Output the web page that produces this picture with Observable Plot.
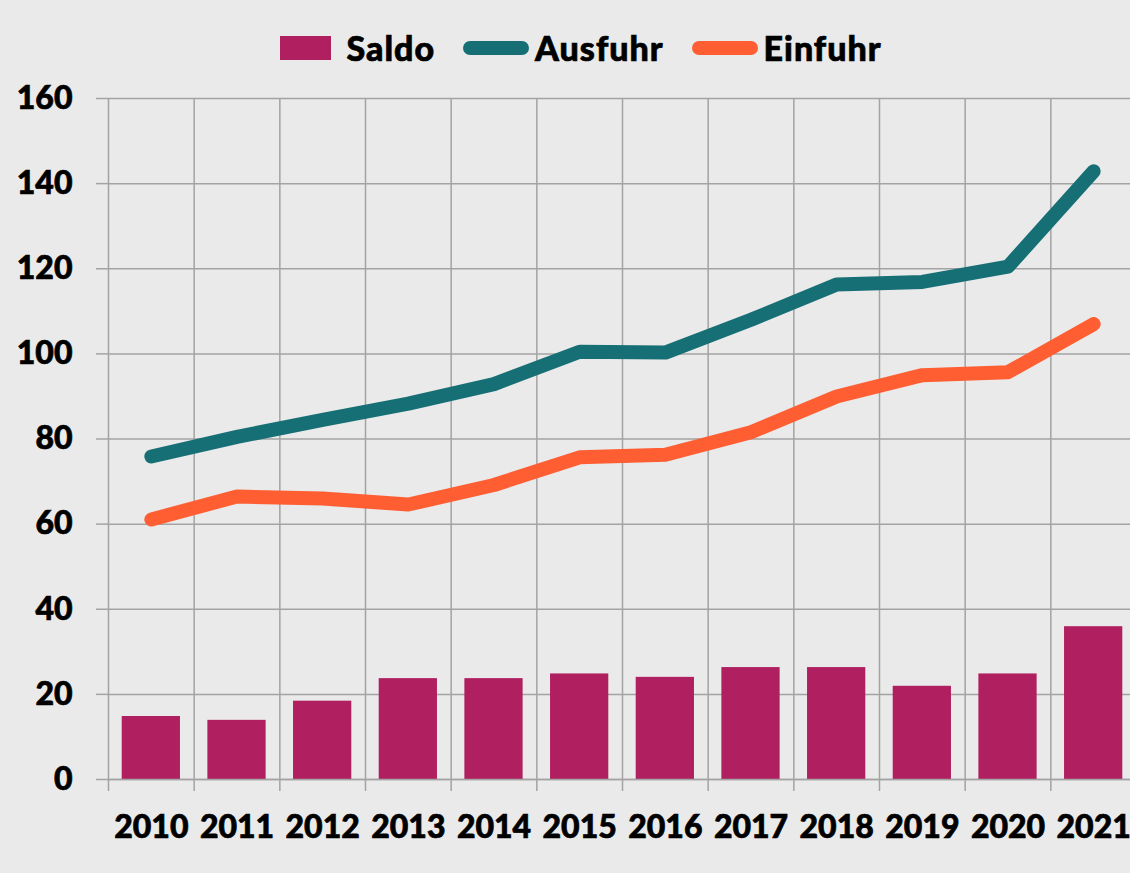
<!DOCTYPE html>
<html>
<head>
<meta charset="utf-8">
<script src="https://cdn.jsdelivr.net/npm/d3@7"></script>
<script src="https://cdn.jsdelivr.net/npm/@observablehq/plot@0.6"></script>
<style>
  html, body { margin: 0; padding: 0; background: #eaeaea; overflow: hidden; width: 1130px; height: 873px; }
  body { font-family: Lato, "Noto Sans", sans-serif; font-weight: 900; }
  #legend { height: 75px; box-sizing: border-box; padding-top: 20px; padding-left: 32px; display: flex; align-items: center; justify-content: center; font-size: 34px; letter-spacing: 1px; color: #000; -webkit-text-stroke: 0.7px #000; }
  .item { display: flex; align-items: center; }
  .sw-rect { width: 51px; height: 24px; margin-right: 15px; }
  .sw-line { width: 66px; height: 14px; border-radius: 7px; margin-right: 6px; }
  #chart svg { display: block; max-width: none !important; }
  #chart svg text { stroke: #000; stroke-width: 0.7px; }
</style>
</head>
<body>
<div id="legend"></div>
<div id="chart"></div>
<script>
const years = [2010, 2011, 2012, 2013, 2014, 2015, 2016, 2017, 2018, 2019, 2020, 2021];
const saldo   = [14.8, 13.9, 18.4, 23.7, 23.7, 24.8, 24.0, 26.3, 26.3, 21.9, 24.8, 35.9];
const ausfuhr = [75.9, 80.5, 84.5, 88.3, 92.9, 100.5, 100.3, 108.0, 116.3, 116.9, 120.5, 142.9];
const einfuhr = [61.1, 66.5, 66.0, 64.6, 69.2, 75.7, 76.3, 81.6, 90.0, 95.0, 95.7, 107.0];
const yTicks = [0, 20, 40, 60, 80, 100, 120, 140, 160];
const seriesNames = ["Saldo", "Ausfuhr", "Einfuhr"];
const colors = { Saldo: "#b01f5f", Ausfuhr: "#176f76", Einfuhr: "#ff5e33" };

// legend
const legend = document.getElementById("legend");
seriesNames.forEach((name, i) => {
  const it = document.createElement("div");
  it.className = "item";
  if (i > 0) it.style.marginLeft = "28px";
  const sw = document.createElement("div");
  sw.className = name === "Saldo" ? "sw-rect" : "sw-line";
  sw.style.background = colors[name];
  const tx = document.createElement("span");
  tx.textContent = name;
  it.appendChild(sw); it.appendChild(tx);
  legend.appendChild(it);
});

const bars = years.map((y, i) => ({ year: y, value: saldo[i] }));
const lines = [
  ...years.map((y, i) => ({ year: y, value: ausfuhr[i], series: "Ausfuhr" })),
  ...years.map((y, i) => ({ year: y, value: einfuhr[i], series: "Einfuhr" }))
];
const bounds = [...years.map(y => y - 0.5), years[years.length - 1] + 0.5];
const half = 0.34;
const gridColor = "#a3a3a3";

const plot = Plot.plot({
  width: 1136,
  height: 798,
  marginTop: 23,
  marginBottom: 94,
  marginLeft: 108,
  marginRight: 0,
  style: { background: "transparent", fontFamily: "Lato, 'Noto Sans', sans-serif", fontWeight: 900, fontSize: "32px", color: "#000", maxWidth: "none" },
  x: { type: "linear", domain: [years[0] - 0.5, years[years.length - 1] + 0.5], label: null },
  y: { domain: [0, 160], label: null },
  marks: [
    Plot.gridY(yTicks, { stroke: gridColor, strokeOpacity: 1, strokeWidth: 1.5 }),
    Plot.gridX(bounds, { stroke: gridColor, strokeOpacity: 1, strokeWidth: 1.5 }),
    Plot.axisY(yTicks, { label: null, tickSize: 12, tickPadding: 24, stroke: gridColor, strokeWidth: 1.5, fontSize: 32, fill: "#000", fontWeight: 900 }),
    Plot.axisX(bounds, { label: null, tickSize: 12, text: null, stroke: gridColor, strokeWidth: 1.5 }),
    Plot.axisX(years, { label: null, tickSize: 0, tickPadding: 36, tickFormat: d => String(d), fontSize: 32, fill: "#000", fontWeight: 900 }),
    Plot.rectY(bars, { x1: d => d.year - half, x2: d => d.year + half, y: "value", fill: colors.Saldo }),
    Plot.line(lines, { x: "year", y: "value", z: "series", stroke: d => colors[d.series], strokeWidth: 14, strokeLinecap: "round", strokeLinejoin: "round" }),
    Plot.ruleY([0], { stroke: gridColor, strokeWidth: 1.5 })
  ]
});
document.getElementById("chart").appendChild(plot);
</script>
</body>
</html>
